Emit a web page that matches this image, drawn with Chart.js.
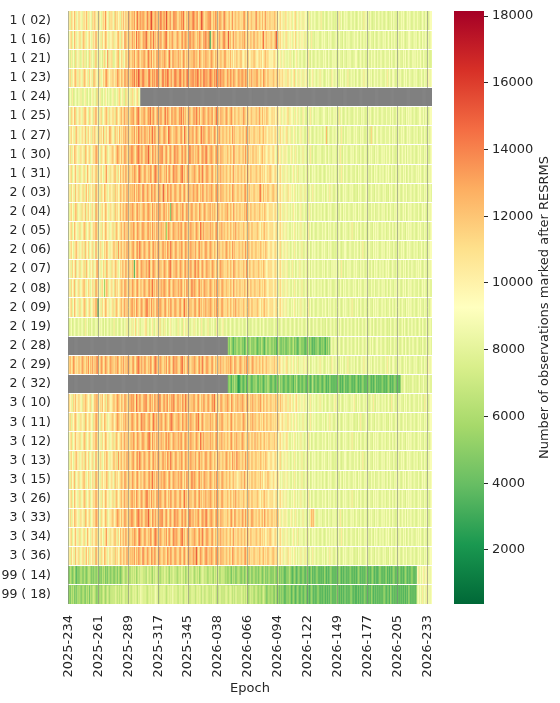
<!DOCTYPE html>
<html>
<head>
<meta charset="utf-8">
<script src="https://cdn.jsdelivr.net/npm/chart.js@4.4.1/dist/chart.umd.min.js"></script>
<style>
  html, body { margin: 0; padding: 0; background: #fff; }
  #wrap { position: relative; width: 560px; height: 703px; }
  #heatmap { position: absolute; left: 0; top: 0; width: 440px; height: 703px; }
  #colorbar { position: absolute; left: 440px; top: 0; width: 120px; height: 703px; }
</style>
</head>
<body>
<div id="wrap">
  <canvas id="heatmap" width="440" height="703"></canvas>
  <canvas id="colorbar" width="120" height="703"></canvas>
</div>
<script>
// satellites (rows), top to bottom
const satellites = [
  "1 ( 02)", "1 ( 16)", "1 ( 21)", "1 ( 23)", "1 ( 24)", "1 ( 25)", "1 ( 27)", "1 ( 30)", "1 ( 31)",
  "2 ( 03)", "2 ( 04)", "2 ( 05)", "2 ( 06)", "2 ( 07)", "2 ( 08)", "2 ( 09)", "2 ( 19)", "2 ( 28)",
  "2 ( 29)", "2 ( 32)", "3 ( 10)", "3 ( 11)", "3 ( 12)", "3 ( 13)", "3 ( 15)", "3 ( 26)", "3 ( 33)",
  "3 ( 34)", "3 ( 36)", "99 ( 14)", "99 ( 18)"
];

// epoch tick labels, one every 28 epochs
const epochTicks = [
  "2025-234", "2025-261", "2025-289", "2025-317", "2025-345", "2026-038", "2026-066",
  "2026-094", "2026-122", "2026-149", "2026-177", "2026-205", "2026-233"
];
const tickStep = 28;
const nEpochs = 341;

// value of each cell code (observations marked after RESRMS)
const codeValues = {
  a: 1500, b: 2500, c: 3500, d: 4500, e: 5500, f: 6500, g: 7500, h: 8000,
  i: 9000, j: 10500, k: 11500, l: 12500, m: 13500, n: 14500, o: 15500, p: 16500
};

// one code per epoch, blocks of 10 epochs; "." or past the end = no data (gray)
const rows = [
  // 1 ( 02)
  "ijhkjiljhi kjihjkiljh jihkjlijhk ihjkjmjihk jkihljkijh kjliljkmjk " +
  "lkmjlnklmk mlkjnlkmol klmkljmnkl mkolklmjkn lmkjlkmlnk jlkmlklnmk lmjklomkjl kmlnkjlkml jkmlkjnlkj " +
  "kljkmjkljk ljkjlmkjkl jkljkjnkjl kjljkmjkjl jkjlkjkijk ijhjkihjij hijkhijhij hjiihgjhih " +
  "hihghihjhg ihghihhigh hgihjhighi hihghihgih ghihhigjhi higihghhig hihgihghih ghhigihhgi hgihihghih ihghihgihh ghihgihghi i",
  // 1 ( 16)
  "hijkhiljhi jkhilkjhij kihjkimjhi jhkijlkihj ijkhjikljh kjimlkjlkj " +
  "mkljnkmlkj lmkolkjmlk nkljmklmjk lmnkjlklmj kjmlkjlmkl mlkjnlkmlk jlkmlkjmln klmbjkmlkj lkmjklnlkj " +
  "okljkmjlkj kljlkmkjlk jlkjmkjlkj kjlnjkljkj lkjkloikjk ijhikjhiji hjikhijhij ihjhigihjh " +
  "hgihihghih ihhgihihgh hihgihhgih gihihghhih hihgihgihh ighihhgihg hihhgihigh ihgihhighi hgihihghhi ihhgihighi hgihhigihh i",
  // 1 ( 21)
  "higjhigkhi jhgikhjgih kjhigjlhij higjkhimhj jkhgijklhi kjhilkjmkj " +
  "lkmjklmkjl kmljknlkmj lkjmlkmjlk mlkjlnkjml kljmkljkml jlkmjlklmk lkjmlkjlkm kljkmlkjlk mjklkjlmkj " +
  "kjljkikjlj jkljijkjlk ijkjlkjijk jkijkljkji jijkjijhij hijhigihjh ighijhighi hghihjhgih " +
  "ghihgihhgi hihgihghih ihghihhgih hgihihghhi ihghihgihg hihgihhihg ighihghihh higihghihg ihhgihighi hghihigihh ihgihhgihg h",
  // 1 ( 23)
  "ijkhjikljh jkihjlkijh kijhlkjihk jhikjlmkji kjlikjmlkj lkjmlkmjlk " +
  "mlnkmlomkl nmkljmnlkm lmknmlkjmn kmlnmklmjl nmlkmnlkml kmnlkmlnkm lnmkmlknml mklnmlkmln kmlnkmlkjm " +
  "lkmlkmlkjl mklmlkmlkj lkmjlklmkj lkjmlkjlkj kjlkjkljkj jkijhjkijh ijkhijhjih jhijhighij " +
  "hihgihjhih ghihihgjih hihhgihihg ihjhgihhig hihghihjhi ghihighihh ighihhgihj hihgiihghi hihghihigh ihhgihihgh hihgihhjih i",
  // 1 ( 24)
  "hgihjghihg ihjhgijhgi hgijhigkhi jhgihjigih gijhgihjkh ijhgkjhijh kjhijkhi",
  // 1 ( 25)
  "jihkjilkhi jkihjkljih kjihkjmjih jkhijkljhk ijkjhlkijk ljkmjlkjkl " +
  "lmkjlmnkjl kmljkmlnkl mkjlmklmkj lnkmlkjmlk mlkjmlnkmk ljkmlkjlmk nlkmjklmlk jmlklmjkln kljmkljkml " +
  "jklmkjlkjk ljkjmlkjlk jkljkjlkjm kjljkjlkji jkjkijkjij hijhijkhji ihjhijhigh jihghihjhi " +
  "hgihihghhi ihhgihighi hihgjhihgh ihgihhghih hihhgihigh gihihghihh ihghihhgih hhigihghih ighihhgihi hihgihghhi ihhigihghi i",
  // 1 ( 27)
  "ihjkijhkli jhikjilhjk ijhkjlijhk jkilhjkijm kjihljkilj kjlkmjlkjk " +
  "lkmjlknlkm jlmkljmkln kmljkmlkjl mlkjnmlkjl kmlkjlmkjn lkjmlklmjk mlkjlnkmlk jlmkljkmlj klmjklkjlk " +
  "jlkjmkljkj kljkljkmjk ljkjlkjkjl kjkljkjikj jkijkjijhk ijhijkhijh hijhighijh ihghijhihg " +
  "hihgihhigh ihlgihghih hihgihjhgi ghihihghih ihhgihihgh hihgkhihgi ighihhgihh hihgihighi hgihihghih ihhgihhigh hihgihgihh i",
  // 1 ( 30)
  "jikhjilkji hjkijhlkij khijkjmlji hkjijlkhij jklijkmlkj ljkmlkjlkm " +
  "mlkjlmnlkm kjlmkolkjm lkmjlkmlnk jlmkjlmkjl nkmlkjlmkl mkjlnlkmjl klmkjlmlkn mjklmlkjlm kljmkljkjl " +
  "kjlkjmljkj lkjkljmkjl jkjlkjljki jkljkjijkj ijkjihjkij hijhjihgij hihjhighih jhighihjhg " +
  "ihghihihgh hihgihhgih ighihjhgih hihghihigh ihhgihghih hgihihhgih ihghihigih hihgihhghi ighihhigih hihgihghih ihhgihihgh i",
  // 1 ( 31)
  "hijkhijlih jkhijkhilj ihjkijlkhi jkihjkmijh kijkljhkil jkljmkjlkj " +
  "lkmlkjmnlk jlmkjlkmlj kmnlkjmlkj lkmjlmkjln kmlkjlmnkl jkmlkjlkml kjlmklnkjl mlkjlmkjlk jlkmjlkjlk " +
  "jkljkmjkjl kjlkjlkjmk jlkjkjlkjk ljkjkijkjl kjijkjhijk ihjhijhigh ijhihjgihi hgihjhighi " +
  "hihgihghih ghihhigihh ihgihhjhig hihghihhgi hgihihghih ihhgihgihi hgihhighih ihgihhgihh hihgihighi ghihhgihih ihghihhgih i",
  // 2 ( 03)
  "ijhkijhlij khijkhjlik hjikjhmkij hkjilkjhik jikhljkijl kjlkjmkjlk " +
  "lkmjlkmlkj nlkjmlkjml kmljkmlkjo lkjmlkmljk mlkjlmkjlm kjlmkljmlk lmkjlkmljk mjlkmlkjlm kljmklkjlk " +
  "jlkjmlkjkl kjlkjlmkjk ljkjlkjkjl nkjljkjlkj jklkjkjijk ijhijhkiji hijhigihjh ihjhighihj " +
  "hihgihhgih ighihjhihg hihgihghih ihhgihihgh hgihihghhi ihghihhgih hihhgihigh gihihghihh ihghihhigh hihgihghih ihhgihighi h",
  // 2 ( 04)
  "ihjkihjlkh ijhkjilhjk ihjkihmkji hjkijlkihj kijhljkijl jkljlmkjlk " +
  "mlkjlmkljk lmkjlmlkjm kljmklmkjl mkljlkdmlk jlmkjlkmlj kmljklmkjl lkjmlkjlmk jlkmjlklkj mlkjlkjlkm " +
  "kjlkjmkjlj kljkjlkmjk jlkjkljkjl kjkjlkjijk jkijkjihjk ihjhijhigi hjihighijh hihgihjhig " +
  "hihgihhigh ihghihihgh hihhgihgih ighihhgihi hgihihghih ihhgihhigh hihgihighi ghihhgihih ihghihighi hihgihhgih ghihihghih i",
  // 2 ( 05)
  "hijkhiljih jkhijlkhij khijkjmkhi jhkijlkijh ijkhjlkijk ljkmjlkjkl " +
  "kmljkmlkjl mlkjlmkljm kljmkljmkl jlekmlkjlm kljmklmkjl mlkjlmkljk mlkjnlkmjl kljmklkjlm kjlkmjlkjl " +
  "kjlkjlkmjk ljkjlkjkjl kjlkjkjlkj ikjkljkjik jkjijkhijk ijhijhihgi hijhigihjh ighihjhigh " +
  "ihghihhgih hihgihighi hgihihghih ihhgihjhgi hihgihghih ghihhgihih ihghihhigh hihgihgihh ighihhgihi hihgihghih ihhgihhigh i",
  // 2 ( 06)
  "ihjkihjkli jhikjhljik hijkhimjhi kjhikjlkih jikljkhmjk ljkljmkljk " +
  "lmkjlmknlk jmlkjlmkjl mkljmlkjlm kljmlknlkj lmkjlkmljk mlkjlmkljm kjlmklkjlm ljkmlkjlkj mkljkljkml " +
  "jlkjmkljkj lkjlkjmkjl kjlkjkljkj lkjkjlkjij kjijkjhijk hijhijhigh ihjhighihj hgihjhighi " +
  "hihgihghih ihhgihihgh hgihihghhi ihghihhgih hihgihjhgi ghihhgihih ihghihighi hihhgihghi hgihihghih ihhgihhigh hihgihgihi i",
  // 2 ( 07)
  "hijhkijlhi jkhijkhlji hjikhijmki jhikjhlkij hkjilkjhik jlkjmkjlkj " +
  "lkcjlmkjlm kljmklnkjl mlkjlmkljk mlkjlmnkjl kmljkmlkjl mkljlmkjln klmkjlmkjl mkljkmlkjl kjlmkljkjl " +
  "kjlkjmlkjk ljkjlkjmkj lkjkljkjlk jkjlkjijkj kjijkjhijk ihjhijhgih jhighihjhi hgihjhigih " +
  "hihgihhgih ighihhgihi hihgihjhgi ghihihghih ihhgihhigh hihgihgihi hgihhighih ihghihhgih hihgihighi ghihhgihih ihghihhgih i",
  // 2 ( 08)
  "ijhkijlhij khijkljhik jhikjhmkji hjkiejlkhi jkihljkijk lkjmlkjlkj " +
  "mlkjlmkjlk jmlkjlmkln kljmkljmkl mlkjlmkjlm kljmklmkjl jmlkjlnkml kjlmkljlmk ljkmlkjlkm jlkjmlkjlk " +
  "kjlkjmkjlj kljkjlkjmk jlkjkljkjl kjkjlkjijk jkijkjihjk ihjhijhihg ihjhighihj hgihjhighi " +
  "hihgihhigh ihghihihgh hihhgihgih ighihhgihi hgihihghih ihhgihhigh hihgihighi ghihhgihih ihghihighi hihgihhgih ghihihghih h",
  // 2 ( 09)
  "hijkhiljih jkhijlkhij khijkjmkbi jhkijlkijh ijkhjlkijk ljkmjlkjkl " +
  "mkljmlkjlm kjlmnkljmk lkjmlkmlkj lmkjlkmljk mlkjlmkjln kljmklkjlm kjlmkljlkm jlkmlkjlkm kljkmljkjl " +
  "kjlkjlkmjk ljkjlkjkjl kjlkjkjlkj ikjkljkjik jkjijkhijk ijhijhihgi hijhigihjh ighihjhigh " +
  "ihghihhgih hihgihighi hgihihghih ihhgihjhgi hihgihghih ghihhgihih ihghihhigh hihgihgihh ighihhgihi hihgihghih ihhgihhigh i",
  // 2 ( 19)
  "hghighihgh ighihgjhig hgihghihgi hihgighihg ighjhgihgh ihgihjhgih " +
  "jhikhijhgi hijkhighij hgijhikhig jhighijhih ighjhihgji hjhighihjh ighihjhghi hjhgihihgj ihghijhgih " +
  "ghihghihgh ihgihghihg hghighihgh ighihghigh hghihgihgh ihghihghih ghihghighi hghihgihgh " +
  "ighihghigh hgihghihgi hghigihghi ghihgihghi hgihghighi hghihgihgh ighihghihg hgihghihgi hghigihghi ghihgihghi hgihghighi h",
  // 2 ( 28)
  ".......... .......... .......... .......... .......... .......... " +
  ".......... .......... .......... .......... .......... .......... .......... .......... .......... " +
  "edfedcedfe defdecdfed efdedfecde dfedcefdef edfdecdfed dedfcedfed efdedcdfed edcdefdedc " +
  "dcedfdcede dcedfdhigh ihghihghih ghihgihghi hgihghihgi hghigihghi ighihghihg hgihghighi hghihgihgh ighihghihg hgihghighi h",
  // 2 ( 29)
  "jkljkmljkj lkjmlkjlkm jlkmjlknlj kmljkmlkjl mkljlkmljk lkmjlkmlkj " +
  "lmkjlmnlkm jlmkjlkmlj kmnlkjmlkj lkmjlmkjln kmlkjlmnkl jkmlkjlkml kjlmklnkjl mlkjlmkjlk jlkmjlkjlk " +
  "lkmlkjmlkj kmlkjlkmjl kjlmkjlkjl kjlkjkljkj jkjljkijkj ijhijkhijh ijhihjgihi hjihjhighi " +
  "hihgihjhih ghihihgjih hihhgihihg ihjhgihhig hihghihjhi ghihighihh ighihhgihj hihgiihghi hihghihigh ihhgihihgh hihgihhjih i",
  // 2 ( 32)
  ".......... .......... .......... .......... .......... .......... " +
  ".......... .......... .......... .......... .......... .......... .......... .......... .......... " +
  "dedcedfdeb bcedcdecde edcdedfdce dedcdedfed cdedcdedfd edcdedcded dcedfdcdec dedcdedcdf " +
  "dcedcdedcd edcdcedcdc dcdedcdcde cdcdedcdcd edcdcdedcd cdedcdcdec dcdcedcdcd edcdcdedcd cdhghihghg hghighhghi ghhighghih h",
  // 3 ( 10)
  "jkijhkjlij kjihkjlkji jkhijlkmji kjlijkhlkj ijkljkmlkj lkjmlkjlkm " +
  "lmkjnlkmlj kmlnkjlmkl jmlkmlnkjl mklmjlkmln kjlmkljmlk nlkmjlklmk jlmkjlkmlj kmljkmlnkj lkjmlkjlkm " +
  "lkjmlkjlkm jlkmlkjlmk jlkmjlkjlk mkjlkjlkjk ljkjlkjkjl jkijkjhjki jhijkihjih ijhigihjhi " +
  "hihgihjhig hihghihhgi jhihgihghi hihhgihijh gihihghihh ihghihjhgi hihgihhigh ihgjhihghi hihhgihigh ihghihhgih hihgjhighi i",
  // 3 ( 11)
  "ijkhjiklji hjkijhlkij kjihkjmlji hkjilkjhij jklijkmlkj kjlkmjlkjl " +
  "mlkjlmkjln kmljklmkjl nlkmjlkmlj kmlkjlmnlk jlkmlkjmlk lmkjlmkljk mlnkjlmkjl kljmklkjlm kjlkmljkjl " +
  "kjlmkjlkjl kljkmlkjlk jlkmjlkjkl jkjlkjlkjk ljkjkjlkji jkijhjkijh ijhijhigih jhighihjhi " +
  "hihgihhgih ighihjhihg hihgihghih ihhgihihgh hgihjhghhi ihghihhgih hihhgihigh gihihghihh ihghihhigh hihgihghih ihhgihighi i",
  // 3 ( 12)
  "hijkhijlij jkhijlkhij khijkjmkhi jhkijlkijh ijkhjlkijk ljkmjlkjkl " +
  "kmljkmlkjl mlkjlmnljm kljmkljmkl jlmkmlkjlm kljmklmkjl mlkjlmkljk mlkjnlkmjl kljmklkjlm kjlkmjlkjl " +
  "kjlmkjlkmj ljkmlkjkjl kjlkjmjlkj lkjkljkjlk jkjljkjijk ijhijkihgi hijhigihjh ighihjhigh " +
  "ihghihhgih hihgihighi hgihihghih ihhgihjhgi hihgihghih ghihhgihih ihghihhigh hihgihgihh ighihhgihi hihgihghih ihhgihhigh i",
  // 3 ( 13)
  "ihjkihjkli jhikjhljik hijkhimjhi kjhikjlkih jikljkhmjk ljkljmkljk " +
  "lmkjlmknlk jmlkjlmkjl mkljmlkjlm kljmlknlkj lmkjlkmljk mlkjlmkljm kjlmklkjlm ljkmlkjlkj mkljkljkml " +
  "jlkjmkljnk lkjlkjmkjl kjlkjkljkj lkjkjlkjij kjijkjhijk hijhijhigh ihjhighihj hgihjhighi " +
  "hihgihghih ihhgihihgh hgihihghhi ihghihhgih hihgihjhgi ghihhgihih ihghihighi hihhgihghi hgihihghih ihhgihhigh hihgihgihi i",
  // 3 ( 15)
  "ijhkijlhij khijkljhik jhikjhmkji hjkijjlkhi jkihljkijk lkjmlkjlkj " +
  "mlkjlmkjlk jmlkjlmkln kljmkljmkl mlkjlmkjlm kljmklmkjl jmlkjlnkml kjlmkljlmk ljkmlkjlkm jlkjmlkjlk " +
  "jlkjkljkji kjlkjmkjlj kjlkjlkjkj ljkijkjlkj jikjijkjih ihjhijhihg ihjhighihj hgihjhighi " +
  "hihgihhigh ihghihihgh hihhgihgih ighihhgihi hgihihghih ihhgihhigh hihgihighi ghihhgihih ihghihighi hihgihhgih ghihihghih i",
  // 3 ( 26)
  "hijkhiljih jkhijlkhij khijkjmkji jhkijlkijh ijkhjlkijk ljkmjlkjkl " +
  "mkljmlkjlm kjlmnkljmk lkjmlkmlkj lmkjlkmljk mlkjlmkjln kljmklkjlm kjlmkljlkm jlkmlkjlkm kljkmljkjl " +
  "kjlkjlkmjk ljkjlkjkjl kjlkjkjlkj ikjkljkjik jkjijkhijk ijhijhihgi hijhigihjh ighihjhigh " +
  "ihghihhgih hihgihighi hgihihghih ihhgihjhgi hihgihghih ghihhgihih ihghihhigh hihgihgihh ighihhgihi hihgihghih ihhgihhigh i",
  // 3 ( 33)
  "jikhjilkji hjkijhlkij khijkjmlji hkjijlkhij jklijkmlkj ljkmlkjlkm " +
  "mlkjlmnlkm kjlmkolkjm lkmjlkmlnk jlmkjlmkjl nkmlkjlmkl mkjlnlkmjl klmkjlmlkn mjklmlkjlm kljmkljkjl " +
  "kjlmkjmljk lkjmljmkjl jkmlkjljkl jkljmkjlkj kljkjljkij hijhjihgij hihjhighih jhighihjlk " +
  "lihghihigh hihgihhgih ighihjhgih hihghihigh ihhgihghih hgihihhgih ihghihigih hihgihhghi ighihhigih hihgihghih ihhgihihgh i",
  // 3 ( 34)
  "hijkhijlih jkhijkhilj ihjkijlkhi jkihjkmijh kijkljhkil jkljmkjlkj " +
  "lkmlkjmnlk jlmkjlkmlj kmnlkjmlkj lkmjlmkjln kmlkjlmnkl jkmlkjlkml kjlmklnkjl mlkjlmkjlk jlkmjlkjlk " +
  "jkljkmjkjl kjlkjlkjmk jlkjkjlkjk ljkjkijkjl kjijkjhijk ihjhijhigh ijhihjgihi hgihjhighi " +
  "hihgihghih ghihhigihh ihgihhjhig hihghihhgi hgihihghih ihhgihgihi hgihhighih ihgihhgihh hihgihighi ghihhgihih ihghihhgih i",
  // 3 ( 36)
  "ijhkijhlij khijkhjlik hjikjhmkij hkjilkjhik jikhljkijl kjlkjmkjlk " +
  "lkmjlkmlkj nlkjmlkjml kmljkmlkjl lkjmlkmljk mlkjlmkjlm kjlmkljmlk oljkmlkjlm mjlkmlkjlm kljmklkjlk " +
  "jlkjmlkjkl kjlkjlmkjk ljkjlkjkjl kjkljkjlkj jklkjkjijk ijhijhkiji hijhigihjh ihjhighihj " +
  "hihgihhgih ighihjhihg hihgihghih ihhgihihgh hgihihghhi ihghihhgih hihhgihigh gihihghihh ihghihhigh hihgihghih ihhgihighi i",
  // 99 ( 14)
  "edfedefdce defedfedef fededfdefd edfefdedfe dfedefdfed efgfefgfeg " +
  "fgfgefgfhg gfgehgfgfe gfhgfgefgf hgfgfegfgh fgefgfhgfg efgfgfhgef gfgefghgfg fegfgfegfg fgefgfgefe " +
  "efedfefdef fedefdefed efdefedfde fedefdedfe dedfedefde dedcdedfed cdedcdedcd edcdedcdec " +
  "dcdedcdcdc edcdcdedcd cdcdedcdcd dcdcedcdcd cdedcdcdce dcdcdedcdc cdedcdcdec dcdcdedcdc edcdcdedcd cdedcdcijh ihijhijhih i",
  // 99 ( 18)
  "dedfefdedf efdefedfef dfefgfedfe fefgfefgfe gfgfhgfgfg fghgfgfhgf " +
  "ghghgfhgih hghgfghghg ghihgfghgh hgfghghgig ghgfhghgfg hghgfghghf ghghgfhgfg hgfgfhghgf gfhgfgfghg " +
  "fghgfgfhgf gfhgfgfgfe fgfgefgfef fefgfedefe efedfedede dedcdedeec dedcdedcde cdedcdcded " +
  "cdcdedcdcd dcdcdcedcd cdedcdcdcd dcdcdedcdc cdcdcdcdec dcdcedcdcd cdcdcdedcd dcedcdcdcd cdcdcdcdce dcdcdcdhih ihjhihjhih i"
];

// colour scale
const vmin = 380;
const vmax = 18150;
const colorbarTicks = [2000, 4000, 6000, 8000, 10000, 12000, 14000, 16000, 18000];
const rdYlGn = ["#a50026", "#d73027", "#f46d43", "#fdae61", "#fee08b", "#ffffbf",
                "#d9ef8b", "#a6d96a", "#66bd63", "#1a9850", "#006837"];
const missingColor = "#808080";
const textColor = "#262626";
const fontFamily = "'DejaVu Sans', sans-serif";

Chart.defaults.font.family = fontFamily;
Chart.defaults.font.size = 13;
Chart.defaults.color = textColor;

const stops = rdYlGn.slice().reverse().map((hex) => [
  parseInt(hex.slice(1, 3), 16), parseInt(hex.slice(3, 5), 16), parseInt(hex.slice(5, 7), 16)
]);

function colorFor(v) {
  if (v === null) return missingColor;
  let t = (v - vmin) / (vmax - vmin);
  t = Math.max(0, Math.min(1, t));
  const pos = t * (stops.length - 1);
  const i = Math.min(stops.length - 2, Math.floor(pos));
  const f = pos - i;
  const c = stops[i].map((a, k) => Math.round(a + (stops[i + 1][k] - a) * f));
  return `rgb(${c[0]},${c[1]},${c[2]})`;
}

const epochLabels = Array.from({ length: nEpochs }, (_, i) =>
  i % tickStep === 0 && epochTicks[i / tickStep] ? epochTicks[i / tickStep] : ""
);

const datasets = rows.map((row, r) => {
  const cells = row.replace(/\s+/g, "");
  const values = epochLabels.map((_, i) => {
    const c = cells[i];
    return c && codeValues[c] !== undefined ? codeValues[c] : null;
  });
  return {
    label: satellites[r],
    data: values.map(() => 1),
    backgroundColor: values.map(colorFor),
    borderWidth: 0,
    barPercentage: 1,
    categoryPercentage: 1,
    stack: "rows",
  };
});

function noPadding(scale) {
  scale.paddingLeft = 0;
  scale.paddingRight = 0;
  scale.paddingTop = 0;
  scale.paddingBottom = 0;
}

// heatmap
new Chart(document.getElementById("heatmap"), {
  type: "bar",
  data: { labels: epochLabels, datasets: datasets },
  options: {
    responsive: false,
    animation: false,
    events: [],
    layout: { padding: { top: 11, right: 8, left: 0, bottom: 0 } },
    plugins: { legend: { display: false }, tooltip: { enabled: false } },
    scales: {
      x: {
        stacked: true,
        grid: {
          z: 2,
          offset: false,
          drawTicks: false,
          color: (ctx) => (ctx.index % tickStep === 0 ? "rgba(128,128,128,0.55)" : "rgba(0,0,0,0)"),
          lineWidth: (ctx) => (ctx.index % tickStep === 0 ? 1 : 0),
        },
        border: { display: false },
        ticks: {
          autoSkip: false,
          minRotation: 90,
          maxRotation: 90,
          padding: 11,
          callback: (value, index) => epochLabels[index],
        },
        title: { display: true, text: "Epoch", padding: { top: 0, bottom: 7 } },
        afterFit: (scale) => { scale.height = 99; noPadding(scale); },
      },
      y: {
        stacked: true,
        reverse: true,
        min: 0,
        max: satellites.length,
        grid: { display: false },
        border: { display: false },
        afterBuildTicks: (scale) => {
          scale.ticks = satellites.map((_, i) => ({ value: i + 0.5 }));
        },
        ticks: {
          autoSkip: false,
          padding: 9,
          font: { size: 12.5 },
          callback: (value, index) => satellites[index],
        },
        afterFit: (scale) => { scale.width = 68; noPadding(scale); },
      },
      // white separators between the rows
      rowLines: {
        type: "linear",
        position: "left",
        reverse: true,
        min: 0,
        max: satellites.length,
        afterBuildTicks: (scale) => {
          scale.ticks = satellites.slice(1).map((_, i) => ({ value: i + 1 }));
        },
        grid: { z: 1, color: "#ffffff", lineWidth: 1, drawTicks: false },
        border: { display: false },
        ticks: { display: false },
        afterFit: (scale) => { scale.width = 0; noPadding(scale); },
      },
    },
  },
});

// colour bar
const colorbarTitle = {
  id: "colorbarTitle",
  afterDraw(chart) {
    const { ctx, chartArea } = chart;
    ctx.save();
    ctx.translate(105, (chartArea.top + chartArea.bottom) / 2);
    ctx.rotate(-Math.PI / 2);
    ctx.fillStyle = textColor;
    ctx.font = `13px ${fontFamily}`;
    ctx.textAlign = "center";
    ctx.textBaseline = "middle";
    ctx.fillText("Number of observations marked after RESRMS", 0, 0);
    ctx.restore();
  },
};

function colorbarGradient(chart) {
  const { ctx, chartArea } = chart;
  if (!chartArea) return missingColor;
  const g = ctx.createLinearGradient(0, chartArea.bottom, 0, chartArea.top);
  stops.forEach((c, k) => g.addColorStop(k / (stops.length - 1), `rgb(${c[0]},${c[1]},${c[2]})`));
  return g;
}

new Chart(document.getElementById("colorbar"), {
  type: "bar",
  data: {
    labels: [""],
    datasets: [{
      data: [[vmin, vmax]],
      backgroundColor: (ctx) => colorbarGradient(ctx.chart),
      borderWidth: 0,
      barPercentage: 1,
      categoryPercentage: 1,
    }],
  },
  options: {
    responsive: false,
    animation: false,
    events: [],
    layout: { padding: { top: 11, left: 14, bottom: 99, right: 0 } },
    plugins: { legend: { display: false }, tooltip: { enabled: false } },
    scales: {
      x: { display: false },
      y: {
        position: "right",
        min: vmin,
        max: vmax,
        afterBuildTicks: (scale) => {
          scale.ticks = colorbarTicks.map((v) => ({ value: v }));
        },
        grid: { drawOnChartArea: false, tickLength: 4, color: textColor },
        border: { display: false },
        ticks: { padding: 4, callback: (value) => String(value) },
        afterFit: (scale) => { scale.width = 76; noPadding(scale); },
      },
    },
  },
  plugins: [colorbarTitle],
});
</script>
</body>
</html>
